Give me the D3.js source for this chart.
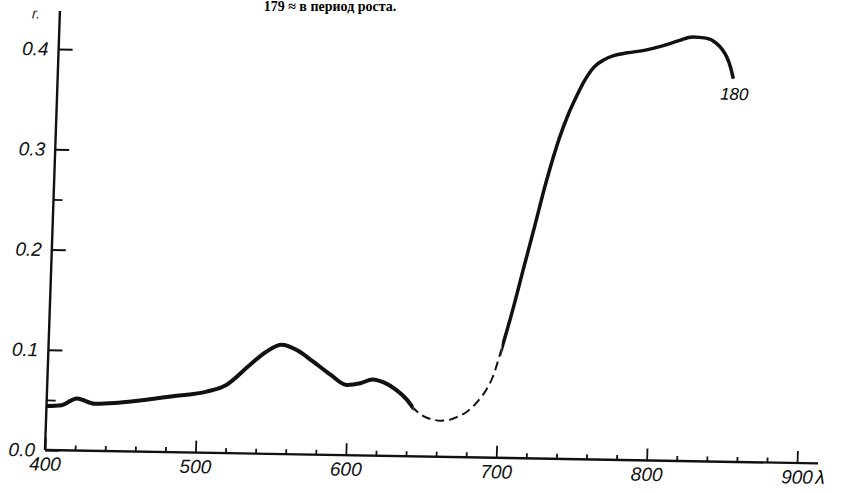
<!DOCTYPE html>
<html>
<head>
<meta charset="utf-8">
<script src="https://cdn.jsdelivr.net/npm/d3@7"></script>
<style>
  body { margin: 0; background: #fff; }
  svg { display: block; }
</style>
</head>
<body>
<div id="chart"></div>
<script>
// curve: solid part, dashed gap, solid part
const lowLambda = [400, 410, 420, 432, 445, 462, 485, 506, 519, 534, 545, 555, 565, 576, 588, 599, 608, 616, 624, 632, 639, 644];
const lowValue  = [0.044, 0.045, 0.052, 0.047, 0.048, 0.051, 0.056, 0.061, 0.068, 0.088, 0.102, 0.109, 0.104, 0.093, 0.080, 0.070, 0.072, 0.076, 0.073, 0.066, 0.057, 0.048];

const gapLambda = [651, 657, 662, 668, 673, 680, 687, 692, 696];
const gapValue  = [0.040, 0.037, 0.036, 0.037, 0.040, 0.046, 0.057, 0.068, 0.081];

const highLambda = [701, 708, 714, 719.5, 727, 735, 740, 745, 750, 756, 763, 769, 778, 790, 800, 812, 821, 830, 837, 841, 844, 847, 849];
const highValue  = [0.108, 0.150, 0.190, 0.226, 0.276, 0.321, 0.343, 0.361, 0.377, 0.391, 0.399, 0.403, 0.406, 0.409, 0.413, 0.419, 0.423, 0.422, 0.417, 0.411, 0.404, 0.393, 0.382];

// where the printed line turns dashed and back to solid
const dashedFrom = 644;
const dashedTo = 701;

const xMajorTicks = [400, 500, 600, 700, 800, 900];
const xMinorTicks = [420, 440, 460, 480, 520, 540, 560, 580, 620, 640, 660, 680, 720, 740, 760, 780, 820, 840, 860, 880];
const yMajorTicks = [0.0, 0.1, 0.2, 0.3, 0.4];
const yMinorTicks = [0.05, 0.25];

const curveLabel = { lambda: 850, value: 0.361, text: "180" };

const svg = d3.select("#chart").append("svg");
svg.attr("width", 845).attr("height", 493).style("background", "#fff");

const labelFont = "'Liberation Sans', Arial, sans-serif";

// heading line at the very top of the scanned page
svg.append("text")
    .attr("x", 330)
    .attr("y", 11)
    .attr("text-anchor", "middle")
    .style("font-family", "'Liberation Serif', 'DejaVu Serif', serif")
    .style("font-size", "14px")
    .style("font-weight", "bold")
    .text("179 ≈ в период роста.");

const x = d3.scaleLinear().domain([400, 900]).range([0, 752]);
const y = d3.scaleLinear().domain([0, 0.4]).range([0, -401]);

// the printed axes are slightly skewed on the page
const plot = svg.append("g")
    .attr("transform", "translate(45, 450) matrix(1, 0.0173, -0.034, 1, 0, 0)");

// axis lines
plot.append("line")
    .attr("x1", x(400)).attr("x2", x(914))
    .attr("y1", y(0)).attr("y2", y(0))
    .attr("stroke", "#111").attr("stroke-width", 2.4);

plot.append("line")
    .attr("x1", x(400)).attr("x2", x(400))
    .attr("y1", y(0)).attr("y2", y(0.438))
    .attr("stroke", "#111").attr("stroke-width", 2.4);

const styleAxis = g => {
    g.select(".domain").remove();
    g.selectAll("line").attr("stroke", "#111").attr("stroke-width", 1.8);
    g.selectAll("text")
        .attr("fill", "#111")
        .style("font-family", labelFont)
        .style("font-style", "italic")
        .style("font-size", "19px");
};

plot.append("g")
    .attr("id", "xAxis")
    .call(d3.axisBottom(x).tickValues(xMajorTicks).tickSize(-12).tickPadding(7).tickFormat(d3.format("d")))
    .call(styleAxis);

plot.append("g")
    .attr("id", "xAxisMinor")
    .call(d3.axisBottom(x).tickValues(xMinorTicks).tickSize(-5).tickFormat(""))
    .call(styleAxis);

plot.append("g")
    .attr("id", "yAxis")
    .call(d3.axisLeft(y).tickValues(yMajorTicks).tickSize(-14).tickPadding(10).tickFormat(d3.format(".1f")))
    .call(styleAxis);

plot.append("g")
    .attr("id", "yAxisMinor")
    .call(d3.axisLeft(y).tickValues(yMinorTicks).tickSize(-9).tickFormat(""))
    .call(styleAxis);

// lambda after the last tick label, r at the top of the y axis
plot.append("text")
    .attr("x", x(900) + 19)
    .attr("y", 7)
    .attr("dy", "0.71em")
    .style("font-family", labelFont)
    .style("font-style", "italic")
    .style("font-size", "19px")
    .text("λ");

plot.append("text")
    .attr("x", x(400) - 28)
    .attr("y", y(0.43))
    .style("font-family", labelFont)
    .style("font-style", "italic")
    .style("font-size", "15px")
    .attr("fill", "#333")
    .text("r.");

// one smooth curve, cut into solid / dashed / solid pieces with clip rects
const allPoints = d3.zip(
    lowLambda.concat(gapLambda, highLambda),
    lowValue.concat(gapValue, highValue)
);

const line = d3.line()
    .x(d => x(d[0]))
    .y(d => y(d[1]))
    .curve(d3.curveMonotoneX);

const defs = svg.append("defs");
const pieces = [
    { id: "clipLow", from: 400, to: dashedFrom, width: 4, dash: null },
    { id: "clipGap", from: dashedFrom, to: dashedTo, width: 2, dash: "9,5" },
    { id: "clipHigh", from: dashedTo, to: 900, width: 3.5, dash: null }
];

pieces.forEach(p => {
    defs.append("clipPath")
        .attr("id", p.id)
        .append("rect")
        .attr("x", x(p.from))
        .attr("y", y(0.5))
        .attr("width", x(p.to) - x(p.from))
        .attr("height", y(-0.1) - y(0.5));

    plot.append("path")
        .datum(allPoints)
        .attr("d", line)
        .attr("clip-path", `url(#${p.id})`)
        .attr("fill", "none")
        .attr("stroke", "#111")
        .attr("stroke-width", p.width)
        .attr("stroke-dasharray", p.dash);
});

plot.append("text")
    .attr("x", x(curveLabel.lambda))
    .attr("y", y(curveLabel.value))
    .attr("text-anchor", "middle")
    .style("font-family", labelFont)
    .style("font-style", "italic")
    .style("font-size", "17px")
    .text(curveLabel.text);
</script>
</body>
</html>
